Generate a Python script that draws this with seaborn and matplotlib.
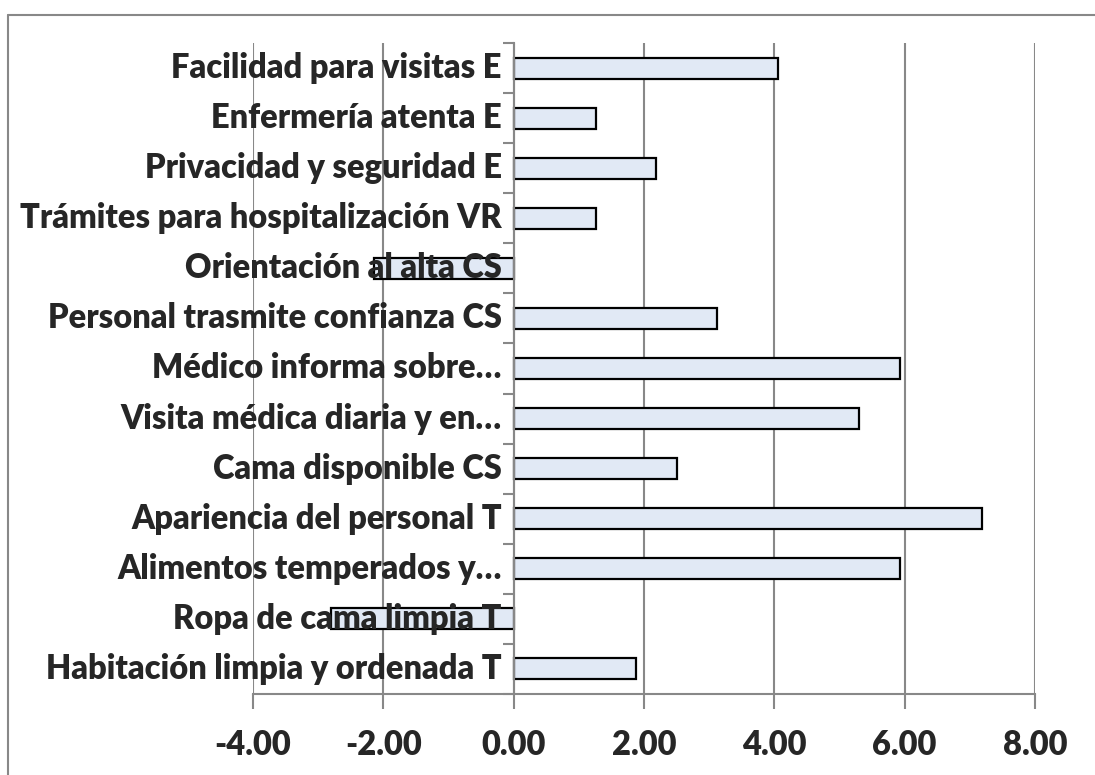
import matplotlib
matplotlib.use("Agg")
import matplotlib.pyplot as plt
import matplotlib.transforms as mtransforms
import seaborn as sns
import pandas as pd
import numpy as np
from matplotlib.lines import Line2D
from matplotlib.ticker import FixedLocator, FormatStrFormatter

categories = [
    "Facilidad para visitas E",
    "Enfermería atenta E",
    "Privacidad y seguridad E",
    "Trámites para hospitalización VR",
    "Orientación al alta CS",
    "Personal trasmite confianza CS",
    "Médico informa sobre…",
    "Visita médica diaria y en…",
    "Cama disponible CS",
    "Apariencia del personal T",
    "Alimentos temperados y…",
    "Ropa de cama limpia T",
    "Habitación limpia y ordenada T",
]
values = [4.06, 1.26, 2.19, 1.26, -2.15, 3.12, 5.93, 5.30, 2.50, 7.18, 5.93, -2.80, 1.88]
x_ticks = [-4, -2, 0, 2, 4, 6, 8]

sns.set_style("white")
plt.rcParams['font.family'] = ['Lato', 'DejaVu Sans']

df = pd.DataFrame({"cat": categories, "val": values})

fig = plt.figure(figsize=(10.95, 7.75), dpi=100)
ax = fig.add_axes([253/1095, 1-694/775, (1035-253)/1095, (694-43)/775])

sns.barplot(data=df, x="val", y="cat", order=categories, orient="h",
            color="#E1E9F5", edgecolor="black", linewidth=1.6,
            width=0.42, ax=ax, saturation=1)

ax.set_xlim(-4, 8)
ax.set_ylim(len(categories) - 0.5, -0.5)
ax.set_xticks(x_ticks)
ax.xaxis.set_major_formatter(FormatStrFormatter("%.2f"))
ax.grid(axis="x", color="#888888", linewidth=1.5)
ax.set_axisbelow(True)
ax.set_xlabel("")
ax.set_ylabel("")

for s in ["top", "right"]:
    ax.spines[s].set_visible(False)
ax.spines["left"].set_position(("data", 0))
ax.spines["left"].set_color("#888888")
ax.spines["left"].set_linewidth(1.5)
ax.spines["bottom"].set_color("#888888")
ax.spines["bottom"].set_linewidth(1.5)
ax.spines["left"].set_zorder(3)

# category labels drawn above the bars, right-aligned at the zero axis
ax.set_yticklabels([])
label_tf = mtransforms.offset_copy(ax.transData, fig=fig, x=-12, y=0, units="dots")
for i, c in enumerate(categories):
    ax.text(0, i, c, transform=label_tf, ha="right", va="center",
            fontsize=23.5, fontweight="heavy", zorder=5)

ax.yaxis.set_minor_locator(FixedLocator(np.arange(-0.5, len(categories), 1.0)))
ax.tick_params(axis="y", which="major", length=0)
ax.tick_params(axis="y", which="minor", length=8, width=1.5, color="#888888", direction="out", left=True)
ax.tick_params(axis="x", which="major", length=11, width=1.5, color="#888888", direction="out",
               bottom=True, labelsize=23.5, pad=14)
for lbl in ax.get_xticklabels():
    lbl.set_fontweight("heavy")

# outer chart frame (top and left edges visible)
x0, y0 = 8/1095, 1 - 15/775
fig.add_artist(Line2D([x0, 1.0], [y0, y0], transform=fig.transFigure, color="#888888", linewidth=1.5))
fig.add_artist(Line2D([x0, x0], [0.0, y0], transform=fig.transFigure, color="#888888", linewidth=1.5))

fig.savefig("out.png", dpi=100)
